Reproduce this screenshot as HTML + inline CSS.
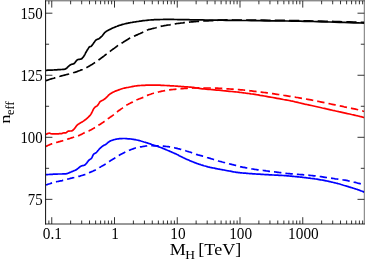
<!DOCTYPE html>
<html><head><meta charset="utf-8"><title>plot</title>
<style>
html,body{margin:0;padding:0;background:#fff;}
body{width:366px;height:263px;overflow:hidden;position:relative;font-family:"Liberation Serif",serif;}
</style></head><body>
<svg width="366" height="263" viewBox="0 0 366 263" style="position:absolute;left:0;top:0;will-change:transform">
<rect width="366" height="263" fill="#fff"/>
<clipPath id="c"><rect x="45.6" y="0.8" width="318.7" height="223.2"/></clipPath>
<path d="M48.88 224.0 v-3.5 M48.88 0.8 v3.5 M51.75 224.0 v-6.8 M51.75 0.8 v6.8 M70.64 224.0 v-3.5 M70.64 0.8 v3.5 M81.69 224.0 v-3.5 M81.69 0.8 v3.5 M89.53 224.0 v-3.5 M89.53 0.8 v3.5 M95.61 224.0 v-3.5 M95.61 0.8 v3.5 M100.58 224.0 v-3.5 M100.58 0.8 v3.5 M104.78 224.0 v-3.5 M104.78 0.8 v3.5 M108.42 224.0 v-3.5 M108.42 0.8 v3.5 M111.63 224.0 v-3.5 M111.63 0.8 v3.5 M114.50 224.0 v-6.8 M114.50 0.8 v6.8 M133.39 224.0 v-3.5 M133.39 0.8 v3.5 M144.44 224.0 v-3.5 M144.44 0.8 v3.5 M152.28 224.0 v-3.5 M152.28 0.8 v3.5 M158.36 224.0 v-3.5 M158.36 0.8 v3.5 M163.33 224.0 v-3.5 M163.33 0.8 v3.5 M167.53 224.0 v-3.5 M167.53 0.8 v3.5 M171.17 224.0 v-3.5 M171.17 0.8 v3.5 M174.38 224.0 v-3.5 M174.38 0.8 v3.5 M177.25 224.0 v-6.8 M177.25 0.8 v6.8 M196.14 224.0 v-3.5 M196.14 0.8 v3.5 M207.19 224.0 v-3.5 M207.19 0.8 v3.5 M215.03 224.0 v-3.5 M215.03 0.8 v3.5 M221.11 224.0 v-3.5 M221.11 0.8 v3.5 M226.08 224.0 v-3.5 M226.08 0.8 v3.5 M230.28 224.0 v-3.5 M230.28 0.8 v3.5 M233.92 224.0 v-3.5 M233.92 0.8 v3.5 M237.13 224.0 v-3.5 M237.13 0.8 v3.5 M240.00 224.0 v-6.8 M240.00 0.8 v6.8 M258.89 224.0 v-3.5 M258.89 0.8 v3.5 M269.94 224.0 v-3.5 M269.94 0.8 v3.5 M277.78 224.0 v-3.5 M277.78 0.8 v3.5 M283.86 224.0 v-3.5 M283.86 0.8 v3.5 M288.83 224.0 v-3.5 M288.83 0.8 v3.5 M293.03 224.0 v-3.5 M293.03 0.8 v3.5 M296.67 224.0 v-3.5 M296.67 0.8 v3.5 M299.88 224.0 v-3.5 M299.88 0.8 v3.5 M302.75 224.0 v-6.8 M302.75 0.8 v6.8 M321.64 224.0 v-3.5 M321.64 0.8 v3.5 M332.69 224.0 v-3.5 M332.69 0.8 v3.5 M340.53 224.0 v-3.5 M340.53 0.8 v3.5 M346.61 224.0 v-3.5 M346.61 0.8 v3.5 M351.58 224.0 v-3.5 M351.58 0.8 v3.5 M355.78 224.0 v-3.5 M355.78 0.8 v3.5 M359.42 224.0 v-3.5 M359.42 0.8 v3.5 M362.63 224.0 v-3.5 M362.63 0.8 v3.5 M45.6 199.35 h6.8 M364.3 199.35 h-6.8 M45.6 137.30 h6.8 M364.3 137.30 h-6.8 M45.6 75.25 h6.8 M364.3 75.25 h-6.8 M45.6 13.20 h6.8 M364.3 13.20 h-6.8 M45.6 168.32 h3.5 M364.3 168.32 h-3.5 M45.6 106.28 h3.5 M364.3 106.28 h-3.5 M45.6 44.23 h3.5 M364.3 44.23 h-3.5" stroke="#000" stroke-width="0.8" fill="none"/>
<g clip-path="url(#c)" fill="none" stroke-linejoin="round">
<path d="M45.9 185.0 L46.4 184.8 L47.1 184.6 L47.9 184.3 L48.8 184.0 L49.8 183.7 L50.7 183.4 L51.5 183.1 L52.2 182.9 L52.8 182.7 L53.2 182.6 L53.6 182.5 L54.0 182.4 L54.4 182.3 L54.8 182.2 L55.3 182.0 L55.9 181.9 L56.6 181.7 L57.5 181.5 L58.4 181.4 L59.3 181.2 L60.3 180.9 L61.2 180.8 L62.1 180.6 L62.8 180.4 L63.4 180.3 L63.9 180.1 L64.3 180.0 L64.7 179.9 L65.0 179.8 L65.5 179.7 L66.0 179.6 L66.6 179.4 L67.4 179.2 L68.3 179.0 L69.3 178.7 L70.4 178.4 L71.4 178.2 L72.5 177.9 L73.4 177.7 L74.2 177.5 L74.9 177.3 L75.4 177.2 L75.8 177.1 L76.2 177.0 L76.6 177.0 L77.1 176.8 L77.6 176.7 L78.2 176.6 L79.0 176.3 L79.9 176.1 L80.8 175.8 L81.8 175.5 L82.8 175.2 L83.8 174.9 L84.6 174.7 L85.4 174.4 L86.0 174.2 L86.5 174.0 L86.9 173.8 L87.3 173.6 L87.7 173.4 L88.1 173.2 L88.6 173.0 L89.2 172.7 L89.9 172.4 L90.8 172.0 L91.7 171.6 L92.7 171.2 L93.6 170.8 L94.5 170.4 L95.4 170.0 L96.1 169.6 L96.7 169.3 L97.2 169.0 L97.6 168.7 L98.0 168.5 L98.4 168.2 L98.8 168.0 L99.3 167.6 L99.9 167.3 L100.6 166.9 L101.4 166.4 L102.2 165.9 L103.1 165.4 L104.0 164.9 L104.8 164.5 L105.5 164.0 L106.2 163.6 L106.7 163.3 L107.1 163.0 L107.5 162.7 L107.8 162.5 L108.0 162.3 L108.4 162.0 L108.8 161.7 L109.3 161.4 L110.0 161.0 L110.7 160.5 L111.6 160.0 L112.4 159.5 L113.3 159.0 L114.2 158.5 L114.9 158.1 L115.6 157.7 L116.1 157.3 L116.5 157.0 L116.9 156.8 L117.2 156.6 L117.5 156.4 L117.9 156.1 L118.3 155.8 L118.9 155.5 L119.6 155.1 L120.5 154.6 L121.5 154.1 L122.5 153.6 L123.5 153.0 L124.5 152.5 L125.3 152.1 L126.1 151.7 L126.7 151.4 L127.2 151.2 L127.6 151.0 L128.0 150.8 L128.4 150.7 L128.8 150.5 L129.2 150.3 L129.8 150.1 L130.5 149.8 L131.2 149.5 L132.0 149.2 L132.9 148.9 L133.7 148.6 L134.6 148.3 L135.3 148.0 L136.1 147.8 L136.7 147.6 L137.2 147.5 L137.7 147.4 L138.2 147.3 L138.7 147.2 L139.2 147.1 L139.7 147.1 L140.4 146.9 L141.2 146.8 L142.0 146.7 L143.0 146.5 L143.9 146.3 L144.9 146.2 L145.8 146.0 L146.7 145.9 L147.4 145.8 L148.0 145.7 L148.5 145.7 L148.9 145.7 L149.2 145.7 L149.6 145.7 L150.0 145.7 L150.5 145.7 L151.1 145.7 L151.9 145.7 L152.8 145.7 L153.8 145.8 L154.9 145.8 L155.9 145.8 L156.9 145.8 L157.9 145.9 L158.7 145.9 L159.4 145.9 L160.0 145.9 L160.5 145.9 L160.9 146.0 L161.4 146.0 L161.9 146.0 L162.5 146.0 L163.1 146.1 L163.9 146.2 L164.7 146.3 L165.6 146.4 L166.6 146.5 L167.5 146.6 L168.4 146.7 L169.2 146.8 L170.0 146.9 L170.6 147.0 L171.2 147.1 L171.6 147.2 L172.1 147.2 L172.5 147.3 L173.0 147.4 L173.5 147.6 L174.2 147.7 L175.0 147.9 L175.9 148.1 L176.9 148.3 L177.9 148.6 L178.9 148.8 L179.9 149.1 L180.8 149.3 L181.6 149.5 L182.3 149.7 L182.8 149.8 L183.3 150.0 L183.7 150.1 L184.1 150.3 L184.6 150.4 L185.1 150.6 L185.7 150.8 L186.4 151.0 L187.2 151.3 L188.1 151.5 L188.9 151.8 L189.8 152.0 L190.7 152.3 L191.5 152.6 L192.2 152.8 L192.8 153.0 L193.3 153.2 L193.8 153.4 L194.2 153.6 L194.6 153.8 L195.1 154.0 L195.6 154.2 L196.3 154.4 L197.1 154.6 L198.0 154.9 L199.0 155.2 L200.0 155.4 L201.0 155.7 L202.0 155.9 L202.9 156.2 L203.7 156.4 L204.4 156.6 L204.9 156.8 L205.4 156.9 L205.8 157.0 L206.2 157.2 L206.7 157.3 L207.2 157.5 L207.8 157.7 L208.5 157.9 L209.3 158.2 L210.2 158.4 L211.1 158.7 L212.0 159.0 L212.9 159.2 L213.7 159.5 L214.4 159.7 L215.0 159.9 L215.5 160.1 L216.0 160.2 L216.4 160.4 L216.8 160.5 L217.3 160.6 L217.8 160.8 L218.5 161.0 L219.3 161.2 L220.2 161.5 L221.3 161.7 L222.3 162.0 L223.4 162.3 L224.4 162.5 L225.3 162.8 L226.0 162.9 L226.6 163.1 L227.0 163.2 L227.3 163.3 L227.5 163.4 L227.8 163.5 L228.0 163.5 L228.4 163.7 L229.0 163.8 L229.7 164.0 L230.6 164.2 L231.6 164.4 L232.6 164.7 L233.7 164.9 L234.7 165.2 L235.6 165.4 L236.4 165.6 L237.0 165.8 L237.6 165.9 L238.0 166.1 L238.4 166.2 L238.9 166.3 L239.3 166.5 L239.9 166.6 L240.5 166.8 L241.3 166.9 L242.2 167.1 L243.2 167.3 L244.2 167.4 L245.2 167.6 L246.2 167.8 L247.1 168.0 L247.9 168.1 L248.5 168.2 L249.1 168.3 L249.5 168.4 L250.0 168.5 L250.4 168.6 L250.8 168.7 L251.4 168.8 L252.0 168.9 L252.8 169.0 L253.7 169.2 L254.6 169.3 L255.7 169.5 L256.7 169.6 L257.6 169.8 L258.5 169.9 L259.3 170.0 L259.9 170.1 L260.5 170.2 L260.9 170.2 L261.3 170.3 L261.8 170.3 L262.2 170.4 L262.8 170.4 L263.4 170.5 L264.2 170.6 L265.1 170.7 L266.1 170.9 L267.1 171.0 L268.1 171.1 L269.1 171.3 L270.0 171.4 L270.8 171.5 L271.5 171.6 L272.0 171.6 L272.5 171.7 L272.9 171.7 L273.4 171.7 L273.8 171.8 L274.3 171.8 L274.9 171.9 L275.5 172.0 L276.2 172.1 L276.9 172.2 L277.6 172.3 L278.4 172.4 L279.2 172.5 L280.0 172.6 L280.9 172.7 L281.8 172.8 L282.8 172.9 L283.8 173.1 L284.9 173.2 L285.9 173.3 L287.1 173.5 L288.3 173.6 L289.5 173.7 L290.8 173.8 L292.2 173.9 L293.6 174.0 L295.1 174.1 L296.6 174.3 L298.1 174.4 L299.5 174.5 L301.0 174.6 L302.4 174.7 L303.9 174.8 L305.3 174.9 L306.8 175.1 L308.2 175.2 L309.6 175.3 L311.1 175.5 L312.5 175.6 L313.9 175.8 L315.3 175.9 L316.7 176.1 L318.2 176.3 L319.6 176.5 L321.0 176.7 L322.4 176.9 L323.8 177.1 L325.2 177.3 L326.7 177.5 L328.1 177.7 L329.5 177.9 L331.0 178.1 L332.4 178.3 L333.8 178.5 L335.2 178.8 L336.7 179.0 L338.1 179.2 L339.4 179.3 L340.8 179.5 L342.2 179.7 L343.6 180.0 L345.0 180.2 L346.4 180.4 L347.8 180.7 L349.3 181.1 L350.9 181.4 L352.4 181.7 L353.9 182.1 L355.3 182.4 L356.6 182.8 L357.8 183.1 L358.9 183.3 L359.9 183.6 L360.9 183.9 L361.8 184.1 L362.6 184.4 L363.2 184.6 L363.8 184.8 L364.3 184.9" stroke="#00f" stroke-width="1.7" stroke-dasharray="7.4 4.08" stroke-dashoffset="0.9"/>
<path d="M45.9 174.7 L46.3 174.7 L46.9 174.6 L47.5 174.6 L48.2 174.5 L49.0 174.5 L49.8 174.4 L50.7 174.3 L51.5 174.3 L52.4 174.3 L53.3 174.2 L54.2 174.2 L55.2 174.1 L56.2 174.1 L57.2 174.1 L58.2 174.0 L59.1 174.0 L60.0 174.0 L61.0 174.0 L61.9 174.0 L62.8 173.9 L63.7 173.9 L64.6 173.9 L65.3 173.9 L66.0 173.8 L66.6 173.7 L67.0 173.6 L67.4 173.5 L67.7 173.4 L68.1 173.3 L68.4 173.1 L68.7 173.0 L69.1 172.8 L69.5 172.6 L70.0 172.4 L70.5 172.2 L71.0 172.0 L71.5 171.8 L71.9 171.6 L72.4 171.4 L72.9 171.2 L73.4 171.0 L73.8 170.8 L74.3 170.6 L74.7 170.5 L75.2 170.3 L75.6 170.1 L76.1 169.9 L76.5 169.6 L76.9 169.3 L77.4 169.0 L77.8 168.6 L78.3 168.2 L78.7 167.8 L79.1 167.5 L79.5 167.2 L79.8 166.9 L80.1 166.7 L80.4 166.5 L80.6 166.4 L80.8 166.3 L81.0 166.2 L81.2 166.1 L81.4 166.0 L81.7 165.9 L82.0 165.8 L82.3 165.7 L82.7 165.7 L83.0 165.6 L83.4 165.5 L83.8 165.4 L84.1 165.3 L84.4 165.2 L84.7 165.0 L84.9 164.9 L85.2 164.7 L85.4 164.4 L85.7 164.2 L85.9 164.0 L86.1 163.7 L86.4 163.4 L86.7 163.1 L87.0 162.7 L87.3 162.3 L87.5 161.9 L87.9 161.5 L88.2 161.0 L88.5 160.7 L88.8 160.3 L89.1 160.0 L89.5 159.7 L89.9 159.5 L90.2 159.2 L90.6 159.0 L91.0 158.7 L91.3 158.4 L91.6 158.1 L91.9 157.7 L92.1 157.2 L92.3 156.7 L92.5 156.2 L92.8 155.7 L93.0 155.2 L93.2 154.8 L93.5 154.4 L93.8 154.1 L94.1 153.8 L94.5 153.6 L94.9 153.4 L95.2 153.2 L95.6 153.0 L96.0 152.7 L96.4 152.4 L96.8 152.0 L97.2 151.5 L97.6 151.1 L98.0 150.5 L98.5 150.0 L98.9 149.5 L99.3 149.0 L99.7 148.6 L100.1 148.2 L100.5 147.9 L100.9 147.5 L101.3 147.2 L101.6 146.9 L102.0 146.6 L102.4 146.3 L102.8 146.1 L103.2 145.8 L103.6 145.6 L104.0 145.3 L104.4 145.1 L104.8 144.9 L105.2 144.7 L105.6 144.5 L106.0 144.2 L106.4 143.9 L106.8 143.6 L107.1 143.3 L107.5 142.9 L107.9 142.6 L108.3 142.2 L108.7 141.9 L109.1 141.7 L109.5 141.4 L110.0 141.2 L110.4 140.9 L110.9 140.7 L111.4 140.5 L111.8 140.4 L112.4 140.2 L112.9 140.0 L113.5 139.8 L114.0 139.7 L114.6 139.5 L115.2 139.4 L115.9 139.2 L116.5 139.1 L117.2 139.0 L117.9 138.9 L118.6 138.8 L119.4 138.7 L120.3 138.7 L121.1 138.6 L122.0 138.6 L122.8 138.5 L123.5 138.5 L124.2 138.5 L124.8 138.5 L125.3 138.5 L125.8 138.6 L126.2 138.6 L126.6 138.6 L127.1 138.7 L127.5 138.8 L128.0 138.8 L128.5 138.8 L129.0 138.9 L129.5 138.9 L130.0 138.9 L130.5 139.0 L131.1 139.0 L131.7 139.1 L132.3 139.2 L133.0 139.3 L133.7 139.4 L134.5 139.6 L135.3 139.7 L136.2 139.9 L137.0 140.0 L137.8 140.2 L138.6 140.4 L139.4 140.6 L140.2 140.8 L140.9 141.0 L141.7 141.2 L142.5 141.5 L143.2 141.7 L144.0 142.0 L144.8 142.2 L145.6 142.4 L146.4 142.7 L147.2 142.9 L147.9 143.2 L148.7 143.4 L149.5 143.7 L150.3 143.9 L151.1 144.2 L151.9 144.5 L152.7 144.7 L153.5 145.0 L154.2 145.2 L155.0 145.5 L155.8 145.8 L156.6 146.0 L157.4 146.3 L158.2 146.6 L159.0 146.9 L159.9 147.2 L160.7 147.5 L161.5 147.8 L162.3 148.1 L163.0 148.4 L163.7 148.7 L164.3 148.9 L164.9 149.2 L165.4 149.4 L165.9 149.6 L166.3 149.8 L166.8 150.0 L167.4 150.2 L168.0 150.5 L168.7 150.8 L169.4 151.1 L170.1 151.4 L170.9 151.7 L171.6 152.1 L172.5 152.4 L173.3 152.8 L174.2 153.2 L175.1 153.6 L176.1 154.1 L177.1 154.6 L178.2 155.1 L179.2 155.7 L180.3 156.2 L181.4 156.7 L182.4 157.2 L183.4 157.7 L184.5 158.2 L185.5 158.7 L186.5 159.2 L187.5 159.6 L188.6 160.1 L189.6 160.6 L190.6 161.0 L191.6 161.4 L192.7 161.8 L193.7 162.2 L194.7 162.6 L195.7 163.0 L196.7 163.4 L197.8 163.7 L198.8 164.1 L199.8 164.4 L200.9 164.8 L201.9 165.1 L202.9 165.4 L203.9 165.7 L205.0 166.0 L206.0 166.3 L207.0 166.6 L208.0 166.9 L209.1 167.1 L210.2 167.4 L211.3 167.6 L212.4 167.8 L213.4 168.0 L214.3 168.2 L215.2 168.4 L215.9 168.6 L216.6 168.7 L217.1 168.8 L217.6 168.9 L218.1 169.0 L218.6 169.1 L219.3 169.2 L220.0 169.3 L220.9 169.5 L221.8 169.6 L222.8 169.8 L223.9 170.0 L225.0 170.2 L226.1 170.5 L227.2 170.7 L228.2 170.8 L229.2 171.0 L230.2 171.2 L231.3 171.4 L232.3 171.6 L233.3 171.8 L234.3 172.0 L235.4 172.1 L236.4 172.3 L237.4 172.4 L238.5 172.6 L239.5 172.7 L240.5 172.8 L241.5 172.9 L242.6 173.0 L243.6 173.1 L244.6 173.2 L245.6 173.2 L246.7 173.3 L247.7 173.4 L248.7 173.5 L249.7 173.6 L250.7 173.7 L251.8 173.7 L252.8 173.8 L253.8 173.9 L254.9 173.9 L255.9 174.0 L256.9 174.1 L257.9 174.1 L258.9 174.2 L260.0 174.2 L261.0 174.3 L262.0 174.4 L263.0 174.4 L264.0 174.5 L265.1 174.6 L266.1 174.6 L267.1 174.7 L268.1 174.7 L269.2 174.8 L270.3 174.9 L271.4 174.9 L272.6 175.0 L273.7 175.0 L274.9 175.1 L276.0 175.1 L277.0 175.2 L278.0 175.2 L278.9 175.3 L279.7 175.3 L280.4 175.4 L281.1 175.4 L281.8 175.4 L282.6 175.5 L283.3 175.5 L284.2 175.6 L285.1 175.7 L286.1 175.7 L287.1 175.8 L288.2 175.9 L289.2 176.0 L290.3 176.1 L291.4 176.2 L292.4 176.3 L293.4 176.4 L294.4 176.5 L295.5 176.6 L296.5 176.7 L297.5 176.8 L298.6 176.9 L299.6 177.0 L300.6 177.1 L301.6 177.2 L302.7 177.3 L303.7 177.5 L304.7 177.6 L305.7 177.7 L306.8 177.8 L307.8 178.0 L308.8 178.1 L309.8 178.2 L310.8 178.4 L311.8 178.5 L312.8 178.6 L313.9 178.7 L314.9 178.9 L315.9 179.0 L317.0 179.2 L318.1 179.4 L319.2 179.6 L320.4 179.8 L321.6 180.0 L322.8 180.2 L323.9 180.4 L325.0 180.6 L326.0 180.8 L326.9 181.0 L327.8 181.2 L328.7 181.4 L329.5 181.6 L330.3 181.7 L331.0 181.9 L331.8 182.1 L332.6 182.3 L333.4 182.5 L334.2 182.7 L334.9 182.8 L335.7 183.0 L336.5 183.2 L337.3 183.4 L338.0 183.6 L338.8 183.8 L339.6 184.0 L340.4 184.2 L341.2 184.5 L341.9 184.7 L342.7 185.0 L343.5 185.2 L344.3 185.5 L345.1 185.7 L345.9 185.9 L346.7 186.2 L347.5 186.4 L348.2 186.6 L349.0 186.9 L349.8 187.1 L350.6 187.4 L351.4 187.6 L352.2 187.8 L353.0 188.1 L353.7 188.3 L354.5 188.6 L355.3 188.8 L356.1 189.1 L356.9 189.3 L357.7 189.6 L358.6 189.9 L359.5 190.2 L360.4 190.6 L361.4 191.0 L362.3 191.3 L363.1 191.6 L363.8 191.9 L364.3 192.1" stroke="#00f" stroke-width="1.7"/>
<path d="M45.9 146.4 L46.3 146.2 L46.9 145.9 L47.6 145.6 L48.4 145.2 L49.2 144.9 L50.1 144.5 L50.8 144.2 L51.5 143.9 L52.1 143.7 L52.6 143.5 L53.1 143.4 L53.6 143.2 L54.1 143.1 L54.7 142.9 L55.2 142.8 L55.9 142.6 L56.7 142.4 L57.5 142.2 L58.4 141.9 L59.4 141.6 L60.3 141.4 L61.2 141.1 L62.1 140.9 L62.8 140.7 L63.4 140.5 L63.9 140.4 L64.3 140.3 L64.7 140.1 L65.0 140.0 L65.5 139.9 L66.0 139.7 L66.6 139.5 L67.4 139.2 L68.3 138.9 L69.3 138.6 L70.4 138.3 L71.4 137.9 L72.4 137.6 L73.4 137.3 L74.2 137.0 L74.9 136.8 L75.5 136.6 L76.0 136.5 L76.4 136.4 L76.9 136.3 L77.4 136.1 L77.9 135.9 L78.5 135.7 L79.2 135.4 L80.0 135.0 L80.8 134.6 L81.7 134.2 L82.5 133.7 L83.4 133.3 L84.1 132.9 L84.8 132.6 L85.4 132.3 L85.9 132.1 L86.3 132.0 L86.7 131.8 L87.1 131.7 L87.6 131.5 L88.0 131.3 L88.6 131.0 L89.3 130.7 L90.0 130.3 L90.8 129.9 L91.6 129.5 L92.4 129.0 L93.2 128.6 L93.9 128.2 L94.6 127.8 L95.2 127.5 L95.7 127.1 L96.2 126.8 L96.6 126.5 L97.1 126.2 L97.6 125.9 L98.1 125.6 L98.6 125.2 L99.2 124.8 L99.9 124.4 L100.6 124.0 L101.3 123.5 L102.0 123.1 L102.7 122.6 L103.3 122.2 L103.9 121.8 L104.4 121.4 L104.9 121.1 L105.3 120.8 L105.7 120.5 L106.1 120.1 L106.5 119.8 L107.0 119.4 L107.6 119.0 L108.3 118.5 L109.1 118.0 L109.9 117.4 L110.8 116.8 L111.6 116.2 L112.5 115.6 L113.2 115.1 L113.9 114.6 L114.4 114.2 L114.9 113.8 L115.2 113.5 L115.6 113.2 L115.9 112.8 L116.2 112.5 L116.6 112.2 L117.2 111.8 L117.8 111.3 L118.5 110.8 L119.3 110.2 L120.1 109.7 L120.9 109.1 L121.6 108.6 L122.4 108.1 L123.0 107.7 L123.5 107.3 L124.0 106.9 L124.4 106.6 L124.7 106.3 L125.1 106.1 L125.5 105.8 L126.0 105.5 L126.6 105.1 L127.3 104.7 L128.2 104.3 L129.1 103.8 L130.1 103.3 L131.0 102.8 L131.9 102.4 L132.8 102.0 L133.5 101.6 L134.1 101.3 L134.5 101.1 L134.9 100.8 L135.2 100.7 L135.5 100.5 L135.9 100.3 L136.3 100.1 L136.9 99.8 L137.7 99.5 L138.5 99.1 L139.5 98.8 L140.6 98.4 L141.6 98.0 L142.6 97.6 L143.5 97.3 L144.2 97.0 L144.8 96.7 L145.2 96.5 L145.5 96.3 L145.8 96.2 L146.0 96.0 L146.4 95.8 L146.8 95.6 L147.3 95.4 L148.0 95.1 L148.8 94.8 L149.7 94.5 L150.7 94.2 L151.6 93.8 L152.6 93.5 L153.4 93.2 L154.2 93.0 L154.9 92.8 L155.4 92.7 L155.9 92.5 L156.4 92.4 L156.9 92.4 L157.4 92.3 L157.9 92.1 L158.6 92.0 L159.4 91.8 L160.2 91.6 L161.1 91.4 L162.1 91.2 L163.0 91.0 L163.9 90.8 L164.8 90.7 L165.5 90.5 L166.1 90.4 L166.6 90.3 L167.0 90.2 L167.3 90.1 L167.7 90.1 L168.1 90.0 L168.6 89.9 L169.2 89.8 L170.0 89.8 L170.9 89.7 L171.9 89.6 L173.0 89.5 L174.1 89.4 L175.1 89.3 L176.0 89.2 L176.8 89.1 L177.4 89.0 L177.9 89.0 L178.3 89.0 L178.7 88.9 L179.0 88.9 L179.4 88.9 L179.9 88.8 L180.5 88.8 L181.3 88.7 L182.1 88.7 L183.0 88.6 L184.0 88.5 L185.0 88.4 L186.0 88.3 L187.1 88.3 L188.1 88.2 L189.1 88.1 L190.2 88.1 L191.3 88.1 L192.4 88.0 L193.5 88.0 L194.7 88.0 L195.8 88.0 L197.0 88.0 L198.2 87.9 L199.4 87.9 L200.6 87.9 L201.8 87.9 L203.1 87.9 L204.3 88.0 L205.6 88.0 L207.0 88.0 L208.4 88.0 L209.9 88.0 L211.4 88.1 L212.9 88.1 L214.5 88.2 L216.0 88.2 L217.5 88.2 L219.0 88.3 L220.4 88.4 L221.8 88.4 L223.2 88.5 L224.5 88.6 L225.8 88.7 L227.2 88.8 L228.6 88.9 L230.0 89.0 L231.5 89.1 L233.0 89.2 L234.5 89.3 L236.0 89.4 L237.6 89.5 L239.1 89.6 L240.6 89.8 L242.0 89.9 L243.4 90.0 L244.7 90.2 L246.1 90.3 L247.4 90.5 L248.7 90.6 L250.0 90.8 L251.3 90.9 L252.7 91.1 L254.1 91.3 L255.5 91.4 L257.0 91.6 L258.4 91.8 L259.9 92.0 L261.3 92.1 L262.8 92.3 L264.2 92.5 L265.6 92.7 L267.1 92.9 L268.5 93.1 L269.9 93.3 L271.4 93.5 L272.8 93.7 L274.2 93.9 L275.6 94.1 L277.1 94.3 L278.5 94.5 L280.0 94.8 L281.4 95.0 L282.9 95.2 L284.3 95.5 L285.7 95.7 L287.1 95.9 L288.4 96.1 L289.7 96.3 L290.9 96.5 L292.2 96.7 L293.4 96.9 L294.7 97.0 L296.1 97.3 L297.5 97.5 L299.1 97.8 L300.7 98.1 L302.5 98.4 L304.3 98.7 L306.0 99.0 L307.8 99.3 L309.4 99.6 L310.9 99.9 L312.3 100.2 L313.5 100.4 L314.6 100.6 L315.7 100.8 L316.8 101.1 L317.9 101.3 L319.1 101.5 L320.4 101.8 L321.7 102.1 L323.1 102.4 L324.6 102.7 L326.1 103.0 L327.6 103.3 L329.2 103.7 L330.7 104.0 L332.2 104.3 L333.7 104.6 L335.2 104.9 L336.7 105.2 L338.2 105.5 L339.7 105.8 L341.2 106.1 L342.6 106.4 L344.1 106.8 L345.6 107.1 L347.1 107.4 L348.6 107.7 L350.1 108.0 L351.5 108.3 L352.9 108.6 L354.3 108.9 L355.6 109.2 L356.9 109.5 L358.2 109.8 L359.4 110.1 L360.7 110.5 L361.8 110.7 L362.8 111.0 L363.6 111.2 L364.3 111.4" stroke="#f00" stroke-width="1.7" stroke-dasharray="7.4 4.08" stroke-dashoffset="0.5"/>
<path d="M45.9 134.4 L46.1 134.3 L46.5 134.1 L46.9 134.0 L47.3 133.8 L47.7 133.6 L48.2 133.4 L48.6 133.3 L49.0 133.2 L49.3 133.2 L49.6 133.2 L49.9 133.3 L50.1 133.4 L50.4 133.5 L50.7 133.6 L51.1 133.7 L51.5 133.8 L52.0 133.8 L52.6 133.8 L53.2 133.9 L53.9 133.9 L54.6 133.8 L55.3 133.8 L55.9 133.8 L56.6 133.8 L57.3 133.8 L57.9 133.8 L58.6 133.8 L59.3 133.7 L60.0 133.7 L60.6 133.7 L61.1 133.7 L61.6 133.6 L62.0 133.5 L62.3 133.4 L62.5 133.3 L62.7 133.2 L62.9 133.1 L63.1 133.0 L63.3 133.0 L63.5 132.9 L63.8 132.9 L64.1 132.9 L64.4 132.9 L64.7 132.9 L65.1 132.9 L65.4 132.9 L65.7 132.9 L66.0 132.8 L66.3 132.7 L66.5 132.5 L66.7 132.3 L67.0 132.1 L67.2 131.8 L67.4 131.6 L67.7 131.4 L67.9 131.3 L68.2 131.2 L68.4 131.1 L68.7 131.1 L68.9 131.1 L69.2 131.1 L69.5 131.0 L69.7 131.0 L70.0 131.0 L70.3 131.0 L70.6 131.0 L70.8 131.0 L71.1 131.0 L71.4 131.0 L71.7 130.9 L72.0 130.8 L72.3 130.7 L72.6 130.5 L72.9 130.2 L73.2 130.0 L73.5 129.6 L73.9 129.3 L74.2 128.9 L74.5 128.6 L74.8 128.2 L75.1 127.8 L75.4 127.4 L75.7 127.0 L76.0 126.6 L76.3 126.1 L76.6 125.7 L77.0 125.3 L77.3 125.0 L77.6 124.7 L78.0 124.4 L78.4 124.1 L78.8 123.9 L79.1 123.7 L79.5 123.4 L79.9 123.2 L80.2 123.0 L80.5 122.8 L80.8 122.6 L81.1 122.5 L81.5 122.3 L81.8 122.1 L82.1 122.0 L82.4 121.8 L82.7 121.6 L83.0 121.4 L83.4 121.1 L83.7 120.9 L84.1 120.6 L84.5 120.4 L84.8 120.1 L85.2 119.8 L85.6 119.5 L86.0 119.2 L86.4 118.9 L86.8 118.5 L87.2 118.2 L87.6 117.8 L88.0 117.4 L88.4 117.1 L88.8 116.7 L89.1 116.3 L89.5 116.0 L89.8 115.6 L90.1 115.3 L90.4 114.9 L90.7 114.5 L91.0 114.1 L91.3 113.6 L91.6 113.0 L91.9 112.4 L92.3 111.7 L92.6 111.0 L92.9 110.3 L93.2 109.7 L93.5 109.1 L93.8 108.6 L94.1 108.2 L94.3 107.9 L94.6 107.6 L94.8 107.4 L95.0 107.2 L95.2 107.1 L95.5 106.9 L95.7 106.7 L95.9 106.5 L96.2 106.4 L96.4 106.3 L96.6 106.2 L96.8 106.0 L97.1 105.9 L97.3 105.7 L97.6 105.4 L97.9 105.0 L98.2 104.6 L98.5 104.1 L98.8 103.6 L99.1 103.1 L99.4 102.5 L99.7 102.1 L100.1 101.7 L100.5 101.4 L100.9 101.1 L101.3 100.9 L101.7 100.7 L102.1 100.5 L102.6 100.3 L103.0 100.1 L103.4 99.9 L103.8 99.6 L104.2 99.3 L104.6 99.1 L104.9 98.8 L105.3 98.4 L105.7 98.1 L106.0 97.8 L106.4 97.5 L106.7 97.2 L107.1 96.8 L107.4 96.5 L107.7 96.2 L108.0 95.8 L108.3 95.5 L108.6 95.1 L109.0 94.8 L109.4 94.5 L109.9 94.1 L110.3 93.8 L110.8 93.5 L111.3 93.2 L111.8 92.9 L112.3 92.6 L112.8 92.3 L113.3 92.1 L113.7 91.9 L114.1 91.7 L114.5 91.5 L115.0 91.3 L115.5 91.1 L116.0 90.9 L116.6 90.7 L117.3 90.4 L118.0 90.2 L118.7 89.9 L119.5 89.6 L120.4 89.3 L121.2 89.0 L122.0 88.7 L122.8 88.5 L123.6 88.3 L124.4 88.1 L125.2 87.9 L125.9 87.8 L126.7 87.6 L127.5 87.5 L128.3 87.4 L129.1 87.2 L129.9 87.0 L130.7 86.9 L131.5 86.7 L132.2 86.6 L133.0 86.4 L133.8 86.3 L134.6 86.1 L135.4 86.0 L136.2 85.9 L137.0 85.8 L137.8 85.7 L138.6 85.6 L139.3 85.6 L140.1 85.5 L140.9 85.5 L141.7 85.4 L142.5 85.4 L143.3 85.3 L144.2 85.3 L145.0 85.3 L145.8 85.2 L146.6 85.2 L147.3 85.2 L148.0 85.2 L148.6 85.2 L149.2 85.2 L149.7 85.2 L150.2 85.2 L150.6 85.2 L151.1 85.2 L151.7 85.2 L152.3 85.2 L153.0 85.2 L153.7 85.2 L154.5 85.2 L155.3 85.2 L156.2 85.2 L157.0 85.2 L157.8 85.2 L158.6 85.2 L159.4 85.2 L160.2 85.2 L160.9 85.3 L161.7 85.3 L162.5 85.3 L163.2 85.4 L164.0 85.4 L164.8 85.5 L165.6 85.5 L166.4 85.5 L167.2 85.6 L167.9 85.6 L168.7 85.7 L169.5 85.7 L170.3 85.8 L171.1 85.8 L171.9 85.8 L172.7 85.9 L173.5 85.9 L174.2 86.0 L175.0 86.0 L175.8 86.1 L176.6 86.1 L177.4 86.2 L178.2 86.3 L178.9 86.3 L179.7 86.4 L180.4 86.4 L181.2 86.5 L182.0 86.6 L182.8 86.6 L183.7 86.7 L184.6 86.8 L185.6 86.8 L186.6 86.9 L187.6 86.9 L188.6 87.0 L189.7 87.1 L190.8 87.2 L192.0 87.3 L193.2 87.4 L194.3 87.6 L195.5 87.8 L196.7 88.0 L198.0 88.2 L199.3 88.4 L200.8 88.6 L202.4 88.8 L204.2 88.9 L206.1 89.1 L208.1 89.3 L210.2 89.5 L212.4 89.7 L214.6 89.9 L216.7 90.1 L218.8 90.2 L220.9 90.4 L223.0 90.7 L225.2 90.9 L227.3 91.1 L229.5 91.3 L231.5 91.5 L233.4 91.7 L235.2 91.8 L236.8 92.0 L238.3 92.2 L239.7 92.4 L241.0 92.5 L242.2 92.7 L243.5 92.8 L244.7 93.0 L246.0 93.2 L247.3 93.3 L248.5 93.5 L249.7 93.6 L250.8 93.8 L252.1 94.0 L253.4 94.2 L254.8 94.4 L256.4 94.7 L258.2 94.9 L260.1 95.3 L262.1 95.6 L264.2 96.0 L266.4 96.4 L268.6 96.8 L270.7 97.2 L272.8 97.5 L274.9 97.9 L277.0 98.3 L279.2 98.7 L281.4 99.1 L283.5 99.5 L285.5 99.8 L287.4 100.2 L289.2 100.5 L290.9 100.9 L292.4 101.2 L293.9 101.5 L295.2 101.9 L296.5 102.1 L297.8 102.4 L298.9 102.7 L300.0 103.0 L300.9 103.2 L301.6 103.3 L302.1 103.5 L302.6 103.6 L303.2 103.7 L303.9 103.9 L304.8 104.1 L306.0 104.3 L307.6 104.7 L309.4 105.1 L311.4 105.5 L313.6 106.0 L315.8 106.5 L318.1 107.0 L320.3 107.5 L322.4 108.0 L324.4 108.4 L326.5 108.9 L328.5 109.3 L330.6 109.8 L332.6 110.3 L334.7 110.7 L336.7 111.2 L338.8 111.7 L340.9 112.1 L343.1 112.6 L345.3 113.1 L347.5 113.6 L349.6 114.0 L351.6 114.5 L353.5 114.9 L355.2 115.3 L356.7 115.7 L358.2 116.0 L359.5 116.3 L360.8 116.7 L361.9 116.9 L362.8 117.2 L363.6 117.4 L364.3 117.5" stroke="#f00" stroke-width="1.7"/>
<path d="M45.9 80.6 L46.6 80.4 L47.6 80.1 L48.7 79.7 L50.0 79.3 L51.3 78.9 L52.6 78.5 L53.8 78.2 L54.7 77.9 L55.4 77.7 L56.0 77.5 L56.4 77.4 L56.8 77.3 L57.2 77.1 L57.7 77.0 L58.3 76.8 L59.1 76.6 L60.2 76.3 L61.5 75.9 L63.0 75.5 L64.5 75.1 L66.0 74.7 L67.5 74.3 L68.8 74.0 L69.8 73.7 L70.5 73.5 L71.0 73.4 L71.3 73.4 L71.5 73.3 L71.7 73.3 L72.0 73.2 L72.5 73.1 L73.2 72.8 L74.2 72.5 L75.5 72.1 L76.9 71.6 L78.4 71.0 L79.9 70.5 L81.3 69.9 L82.6 69.5 L83.6 69.1 L84.3 68.8 L84.8 68.7 L85.0 68.5 L85.2 68.5 L85.4 68.3 L85.7 68.2 L86.1 68.0 L86.7 67.6 L87.6 67.1 L88.6 66.4 L89.8 65.7 L91.1 64.9 L92.4 64.2 L93.6 63.4 L94.6 62.7 L95.5 62.2 L96.1 61.8 L96.5 61.6 L96.8 61.4 L97.0 61.2 L97.2 61.1 L97.5 60.9 L97.9 60.6 L98.5 60.1 L99.3 59.5 L100.3 58.8 L101.5 57.9 L102.7 57.0 L103.9 56.1 L105.0 55.2 L106.1 54.4 L106.9 53.8 L107.5 53.3 L107.9 53.0 L108.2 52.8 L108.5 52.6 L108.7 52.4 L109.0 52.2 L109.5 51.9 L110.1 51.4 L111.0 50.7 L112.0 49.9 L113.2 49.0 L114.5 48.1 L115.8 47.1 L117.0 46.2 L118.0 45.4 L118.9 44.8 L119.5 44.4 L119.9 44.1 L120.2 43.9 L120.5 43.8 L120.7 43.7 L121.0 43.5 L121.4 43.3 L122.0 42.9 L122.9 42.4 L123.9 41.7 L125.1 41.0 L126.4 40.2 L127.6 39.5 L128.8 38.7 L129.9 38.1 L130.8 37.6 L131.5 37.2 L132.0 37.0 L132.3 36.8 L132.7 36.7 L133.0 36.6 L133.3 36.5 L133.8 36.3 L134.5 36.0 L135.4 35.6 L136.5 35.1 L137.7 34.6 L138.9 34.0 L140.2 33.5 L141.3 32.9 L142.4 32.4 L143.3 32.0 L144.0 31.7 L144.4 31.4 L144.7 31.2 L145.0 31.0 L145.3 30.8 L145.7 30.6 L146.2 30.4 L146.9 30.1 L147.9 29.8 L149.1 29.4 L150.5 29.1 L151.9 28.7 L153.4 28.3 L154.8 28.0 L156.0 27.7 L157.0 27.4 L157.7 27.2 L158.2 27.0 L158.6 26.9 L158.8 26.8 L159.1 26.8 L159.5 26.7 L160.0 26.6 L160.7 26.4 L161.7 26.2 L162.9 26.0 L164.3 25.7 L165.7 25.5 L167.1 25.2 L168.5 25.0 L169.8 24.8 L170.8 24.6 L171.6 24.5 L172.2 24.3 L172.6 24.2 L173.0 24.2 L173.4 24.1 L173.8 24.0 L174.4 23.9 L175.2 23.8 L176.2 23.7 L177.4 23.5 L178.8 23.3 L180.2 23.2 L181.6 23.0 L183.0 22.9 L184.2 22.7 L185.2 22.6 L186.0 22.5 L186.5 22.4 L187.0 22.4 L187.3 22.3 L187.7 22.3 L188.1 22.2 L188.7 22.2 L189.4 22.1 L190.4 22.0 L191.5 21.9 L192.8 21.8 L194.1 21.7 L195.4 21.6 L196.7 21.5 L197.8 21.4 L198.8 21.3 L199.5 21.2 L200.1 21.2 L200.5 21.2 L200.9 21.1 L201.3 21.1 L201.8 21.1 L202.4 21.0 L203.2 21.0 L204.2 20.9 L205.4 20.9 L206.7 20.8 L208.1 20.8 L209.5 20.7 L211.0 20.6 L212.5 20.6 L213.9 20.5 L215.2 20.4 L216.3 20.3 L217.4 20.3 L218.5 20.2 L219.8 20.1 L221.4 20.0 L223.4 20.0 L226.0 19.9 L229.2 19.9 L232.9 20.0 L237.1 20.0 L241.5 20.0 L246.1 20.1 L250.8 20.1 L255.5 20.2 L260.0 20.2 L264.4 20.2 L268.9 20.3 L273.4 20.3 L278.0 20.4 L282.6 20.4 L287.1 20.5 L291.6 20.5 L296.0 20.6 L300.3 20.7 L304.6 20.8 L308.9 20.9 L313.1 21.0 L317.3 21.1 L321.5 21.2 L325.7 21.3 L330.0 21.4 L334.5 21.5 L339.4 21.7 L344.3 21.8 L349.3 21.9 L353.9 22.1 L358.1 22.2 L361.7 22.3 L364.3 22.4" stroke="#000" stroke-width="1.7" stroke-dasharray="10.2 4.12" stroke-dashoffset="0.3"/>
<path d="M45.9 70.3 L46.3 70.3 L46.9 70.3 L47.6 70.2 L48.3 70.2 L49.1 70.2 L49.9 70.2 L50.7 70.1 L51.5 70.1 L52.3 70.1 L53.0 70.0 L53.8 70.0 L54.6 69.9 L55.4 69.9 L56.2 69.8 L57.0 69.8 L57.8 69.7 L58.6 69.7 L59.5 69.6 L60.3 69.6 L61.2 69.5 L62.0 69.5 L62.8 69.4 L63.5 69.4 L64.1 69.3 L64.6 69.2 L65.0 69.1 L65.3 69.0 L65.6 68.9 L65.8 68.8 L66.0 68.6 L66.2 68.5 L66.5 68.3 L66.8 68.1 L67.0 67.9 L67.3 67.6 L67.5 67.3 L67.8 67.1 L68.0 66.8 L68.3 66.5 L68.5 66.3 L68.8 66.1 L69.0 65.9 L69.3 65.7 L69.5 65.5 L69.8 65.3 L70.0 65.1 L70.3 64.9 L70.5 64.8 L70.7 64.7 L70.9 64.6 L71.1 64.5 L71.2 64.5 L71.4 64.4 L71.6 64.3 L71.8 64.3 L72.0 64.2 L72.2 64.1 L72.5 64.1 L72.8 64.0 L73.1 64.0 L73.4 63.9 L73.6 63.8 L73.9 63.7 L74.2 63.5 L74.5 63.2 L74.7 62.9 L75.0 62.6 L75.3 62.2 L75.6 61.8 L75.8 61.4 L76.1 61.1 L76.3 60.8 L76.5 60.6 L76.7 60.4 L76.9 60.2 L77.1 60.0 L77.3 59.9 L77.5 59.8 L77.7 59.7 L77.9 59.6 L78.1 59.5 L78.3 59.5 L78.5 59.4 L78.7 59.4 L78.9 59.4 L79.1 59.4 L79.3 59.3 L79.5 59.3 L79.7 59.3 L80.0 59.2 L80.2 59.2 L80.5 59.2 L80.7 59.1 L81.0 59.1 L81.2 59.0 L81.4 58.9 L81.6 58.8 L81.8 58.6 L82.0 58.5 L82.1 58.3 L82.3 58.1 L82.5 57.9 L82.6 57.7 L82.8 57.5 L83.0 57.3 L83.2 57.1 L83.4 56.8 L83.6 56.6 L83.7 56.3 L83.9 56.0 L84.1 55.8 L84.3 55.5 L84.5 55.2 L84.6 54.9 L84.8 54.6 L85.0 54.3 L85.1 53.9 L85.3 53.6 L85.4 53.3 L85.6 53.0 L85.7 52.7 L85.9 52.5 L86.0 52.2 L86.2 52.0 L86.3 51.8 L86.4 51.5 L86.6 51.2 L86.8 50.9 L87.0 50.5 L87.3 50.1 L87.5 49.6 L87.8 49.2 L88.1 48.7 L88.3 48.3 L88.6 47.9 L88.8 47.6 L89.0 47.4 L89.1 47.2 L89.3 47.0 L89.4 46.9 L89.6 46.8 L89.7 46.8 L89.8 46.7 L90.0 46.6 L90.2 46.5 L90.3 46.5 L90.5 46.5 L90.7 46.4 L90.9 46.4 L91.1 46.3 L91.3 46.2 L91.5 46.0 L91.7 45.7 L92.0 45.4 L92.3 45.0 L92.6 44.6 L92.9 44.2 L93.1 43.8 L93.4 43.4 L93.7 43.0 L94.0 42.6 L94.2 42.3 L94.5 41.9 L94.7 41.5 L95.0 41.2 L95.2 40.8 L95.5 40.5 L95.7 40.3 L95.9 40.1 L96.1 39.9 L96.3 39.8 L96.5 39.7 L96.7 39.6 L96.8 39.6 L97.0 39.5 L97.2 39.4 L97.4 39.3 L97.6 39.2 L97.8 39.2 L98.0 39.1 L98.2 39.1 L98.4 39.0 L98.6 38.9 L98.8 38.8 L99.0 38.7 L99.2 38.6 L99.4 38.4 L99.5 38.3 L99.7 38.1 L99.9 38.0 L100.1 37.8 L100.3 37.6 L100.5 37.4 L100.7 37.2 L101.0 37.0 L101.2 36.8 L101.4 36.6 L101.7 36.4 L101.9 36.1 L102.2 35.8 L102.5 35.5 L102.8 35.1 L103.1 34.7 L103.4 34.3 L103.7 33.8 L104.1 33.4 L104.4 33.0 L104.7 32.7 L105.0 32.4 L105.3 32.1 L105.6 31.9 L105.9 31.7 L106.2 31.4 L106.5 31.2 L106.9 31.0 L107.2 30.8 L107.6 30.6 L107.9 30.4 L108.3 30.2 L108.7 30.0 L109.1 29.8 L109.5 29.6 L109.9 29.5 L110.2 29.3 L110.5 29.1 L110.8 29.0 L111.0 28.9 L111.2 28.8 L111.4 28.6 L111.7 28.5 L112.1 28.3 L112.6 28.1 L113.2 27.8 L113.9 27.6 L114.6 27.2 L115.5 26.9 L116.3 26.5 L117.2 26.2 L118.0 25.9 L118.8 25.6 L119.6 25.3 L120.4 25.1 L121.2 24.9 L121.9 24.6 L122.7 24.4 L123.5 24.2 L124.3 24.0 L125.1 23.8 L125.9 23.6 L126.7 23.4 L127.5 23.3 L128.2 23.1 L129.0 22.9 L129.8 22.8 L130.6 22.6 L131.4 22.5 L132.2 22.4 L132.9 22.2 L133.7 22.1 L134.4 22.0 L135.2 21.9 L136.0 21.8 L136.8 21.6 L137.7 21.5 L138.7 21.4 L139.7 21.2 L140.8 21.1 L141.9 20.9 L143.1 20.7 L144.2 20.6 L145.2 20.5 L146.2 20.4 L147.1 20.3 L148.0 20.2 L148.8 20.1 L149.5 20.0 L150.3 20.0 L151.1 19.9 L151.8 19.8 L152.6 19.8 L153.4 19.8 L154.2 19.7 L154.9 19.7 L155.7 19.7 L156.5 19.7 L157.2 19.6 L158.0 19.6 L158.8 19.6 L159.6 19.6 L160.4 19.5 L161.2 19.5 L161.9 19.5 L162.7 19.5 L163.5 19.4 L164.3 19.4 L165.1 19.4 L165.9 19.4 L166.7 19.4 L167.5 19.4 L168.2 19.4 L169.0 19.4 L169.8 19.4 L170.6 19.4 L171.4 19.4 L172.2 19.4 L172.9 19.4 L173.7 19.4 L174.4 19.5 L175.2 19.5 L176.0 19.5 L176.8 19.5 L177.7 19.6 L178.6 19.6 L179.5 19.6 L180.4 19.6 L181.4 19.6 L182.4 19.6 L183.5 19.7 L184.7 19.7 L186.0 19.7 L187.4 19.7 L188.8 19.7 L190.3 19.8 L191.9 19.8 L193.6 19.8 L195.5 19.8 L197.6 19.9 L200.0 19.9 L202.6 19.9 L205.5 20.0 L208.5 20.0 L211.8 20.1 L215.1 20.1 L218.7 20.2 L222.3 20.2 L226.0 20.3 L229.9 20.3 L233.9 20.4 L238.1 20.4 L242.4 20.5 L246.8 20.5 L251.2 20.6 L255.6 20.6 L260.0 20.7 L264.4 20.8 L268.9 20.8 L273.4 20.8 L278.0 20.9 L282.6 20.9 L287.1 21.0 L291.6 21.1 L296.0 21.1 L300.3 21.2 L304.6 21.3 L308.9 21.4 L313.1 21.5 L317.3 21.6 L321.5 21.8 L325.7 21.9 L330.0 22.0 L334.5 22.1 L339.4 22.3 L344.3 22.4 L349.3 22.6 L353.9 22.8 L358.1 22.9 L361.7 23.0 L364.3 23.1" stroke="#000" stroke-width="1.7"/>
</g>
<path d="M45.6 0.30000000000000004 V224.4" stroke="#000" stroke-opacity="0.95" stroke-width="1.0" fill="none"/>
<path d="M45.1 224.0 H364.8" stroke="#000" stroke-opacity="0.8" stroke-width="1.0" fill="none"/>
<path d="M45.1 0.8 H364.8" stroke="#000" stroke-opacity="0.65" stroke-width="1.0" fill="none"/>
<path d="M364.3 0.30000000000000004 V224.4" stroke="#000" stroke-opacity="0.55" stroke-width="1.0" fill="none"/>
<g font-family="Liberation Serif, serif" font-size="15.3" fill="#000">
<text transform="translate(42.65 205.20) scale(0.97 1.07)" text-anchor="end">75</text>
<text transform="translate(42.65 143.15) scale(0.97 1.07)" text-anchor="end">100</text>
<text transform="translate(42.65 81.10) scale(0.97 1.07)" text-anchor="end">125</text>
<text transform="translate(42.65 19.05) scale(0.97 1.07)" text-anchor="end">150</text>
<text transform="translate(52.40 238.8) scale(1.0 1.07)" text-anchor="middle">0.1</text>
<text transform="translate(115.15 238.8) scale(1.0 1.07)" text-anchor="middle">1</text>
<text transform="translate(177.90 238.8) scale(1.0 1.07)" text-anchor="middle">10</text>
<text transform="translate(240.65 238.8) scale(1.0 1.07)" text-anchor="middle">100</text>
<text transform="translate(303.40 238.8) scale(1.0 1.07)" text-anchor="middle">1000</text>
</g>
<g font-family="Liberation Serif, serif" font-size="16.5" fill="#000">
<text transform="translate(169.8 254.7) scale(1.095 1.04)">M</text>
<text transform="translate(185.26 258.9)" font-size="13.5">H</text>
<text transform="translate(198.35 254.7) scale(1.095 1.0)">[TeV]</text>
<text transform="translate(9.5 123.8) rotate(-90) scale(1.13 0.91)">n</text>
<text transform="translate(13.6 115.0) rotate(-90) scale(1.02 1.0)" font-size="12.2">eff</text>
</g>
</svg>
</body></html>
